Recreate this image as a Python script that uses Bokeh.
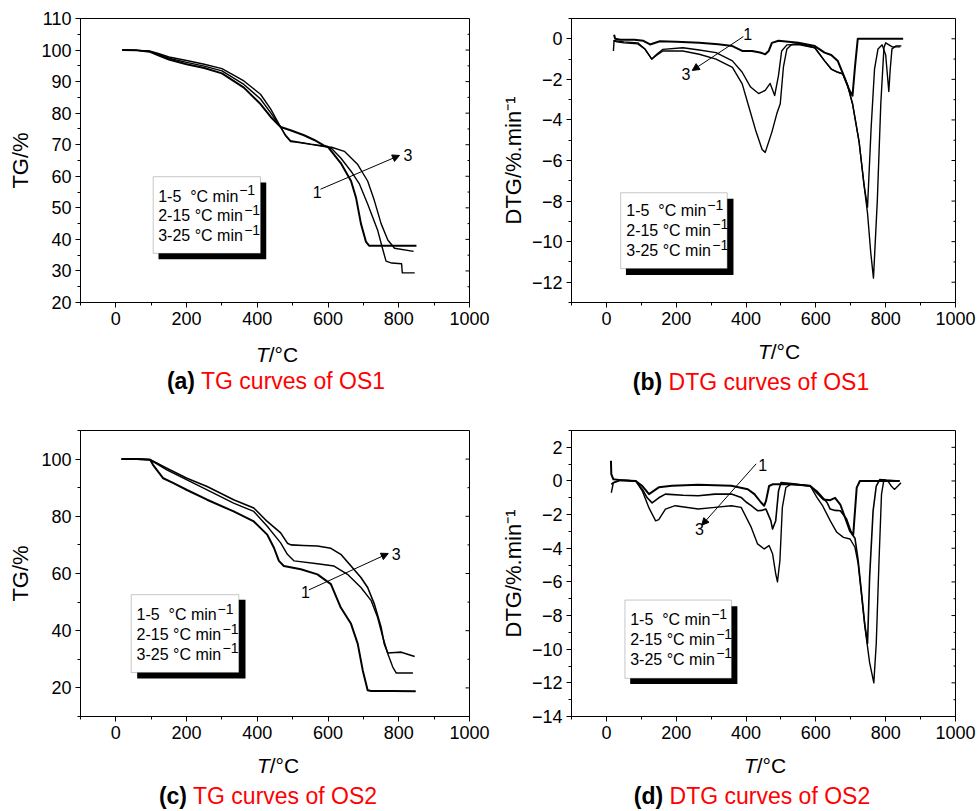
import numpy as np
from bokeh.plotting import figure
from bokeh.models import (Range1d, SingleIntervalTicker, BoxAnnotation, Label,
                          Arrow, NormalHead, CustomJSTickFormatter, Div)
from bokeh.layouts import column, row
from bokeh.embed import file_html
from bokeh.resources import INLINE

FONT = "Liberation Sans"

# ---------------- (a) TG curves of OS1 ----------------
a_T1 = [18, 60, 95, 120, 150, 200, 250, 300, 362, 409, 438, 466, 494, 532, 561, 589, 599, 636, 665, 679, 693, 707, 716, 760, 800, 850]
a_G1 = [100, 99.9, 99.5, 98.3, 97.0, 95.5, 94.3, 92.6, 88.1, 82.9, 78.8, 75.6, 74.6, 73.0, 71.5, 69.7, 69.4, 64.2, 58.5, 53.3, 45.0, 39.3, 38.0, 38.0, 38.0, 38.0]
a_T2 = [18, 60, 95, 120, 150, 200, 250, 300, 362, 409, 438, 466, 480, 494, 513, 551, 589, 610, 636, 665, 689, 712, 740, 755, 764, 780, 808, 810, 845]
a_G2 = [100, 99.9, 99.6, 98.6, 97.4, 96.1, 94.9, 93.4, 89.1, 84.5, 80.1, 75.6, 73.0, 71.3, 70.9, 70.2, 69.6, 68.8, 65.8, 61.6, 57.5, 51.2, 43.0, 36.7, 33.1, 32.5, 32.3, 29.4, 29.4]
a_T3 = [18, 60, 95, 120, 150, 200, 250, 300, 362, 409, 438, 466, 480, 494, 513, 551, 589, 610, 646, 684, 712, 731, 750, 769, 788, 842]
a_G3 = [100, 99.9, 99.7, 98.9, 97.8, 96.7, 95.5, 94.1, 90.2, 86.0, 81.3, 75.6, 72.8, 71.0, 70.8, 70.1, 69.4, 69.2, 67.9, 63.7, 58.5, 52.3, 45.0, 39.8, 37.2, 36.2]

# ---------------- (b) DTG curves of OS1 ----------------
b_T1 = [22, 25, 40, 80, 106, 125, 153, 200, 266, 320, 361, 389, 417, 440, 455, 465, 474, 493, 550, 597, 625, 644, 663, 682, 695, 701, 705, 712, 720, 760, 800, 850]
b_D1 = [0.2, 0.0, -0.05, -0.05, -0.1, -0.28, -0.12, -0.15, -0.2, -0.27, -0.36, -0.6, -0.6, -0.68, -0.76, -0.6, -0.2, -0.1, -0.2, -0.36, -0.68, -0.8, -1.1, -1.9, -2.5, -2.7, -2.8, -1.4, 0.0, 0.0, 0.0, 0.0]
b_T2 = [20, 25, 50, 90, 110, 130, 145, 162, 219, 266, 314, 361, 389, 413, 436, 455, 469, 482, 493, 502, 517, 550, 597, 625, 644, 663, 677, 691, 705, 724, 738, 748, 758, 768, 778, 790, 800, 805, 809, 813, 818, 830, 845]
b_D2 = [-0.1, -0.1, -0.15, -0.2, -0.5, -1.0, -0.75, -0.52, -0.44, -0.55, -0.68, -1.09, -1.65, -2.38, -2.7, -2.54, -2.2, -2.8, -1.8, -0.6, -0.3, -0.28, -0.44, -1.09, -1.49, -1.65, -1.73, -2.3, -3.2, -5.1, -7.2, -8.3, -4.5, -1.5, -0.5, -0.3, -0.8, -1.8, -2.6, -1.5, -0.5, -0.35, -0.35]
b_T3 = [20, 22, 30, 50, 90, 110, 130, 145, 162, 219, 266, 314, 361, 389, 408, 427, 446, 455, 474, 488, 498, 507, 517, 531, 550, 597, 625, 644, 663, 677, 691, 705, 724, 738, 748, 757, 765, 776, 786, 795, 800, 819, 842]
b_D3 = [-0.6, -0.1, -0.15, -0.2, -0.25, -0.5, -1.0, -0.8, -0.6, -0.6, -0.76, -1.0, -1.41, -2.22, -3.35, -4.48, -5.46, -5.6, -4.6, -3.7, -3.2, -1.4, -0.5, -0.28, -0.24, -0.44, -1.09, -1.49, -1.65, -1.73, -2.3, -3.2, -5.1, -7.2, -8.6, -10.5, -11.8, -8.0, -3.2, -0.44, -0.2, -0.4, -0.4]

# ---------------- (c) TG curves of OS2 ----------------
c_T1 = [16, 60, 97, 105, 120, 134, 163, 201, 258, 333, 390, 428, 447, 461, 475, 523, 570, 608, 636, 665, 684, 698, 712, 722, 780, 848]
c_G1 = [100, 100, 99.8, 98.0, 95.5, 93.3, 91.6, 89.2, 85.8, 81.7, 78.2, 73.6, 69.0, 64.4, 62.6, 61.5, 59.7, 56.3, 48.1, 42.4, 35.4, 26.2, 19.2, 18.9, 18.9, 18.8]
c_T2 = [16, 60, 97, 110, 144, 201, 258, 333, 390, 428, 466, 485, 495, 530, 570, 608, 636, 665, 693, 712, 731, 750, 759, 769, 790, 807, 845]
c_G2 = [100, 100, 99.8, 99.0, 96.8, 93.3, 90.4, 85.8, 82.9, 78.2, 74.2, 70.6, 70.0, 69.8, 69.6, 68.8, 66.7, 62.6, 58.6, 55.1, 49.3, 41.2, 35.4, 32.2, 32.4, 32.5, 31.0]
c_T3 = [16, 60, 97, 110, 144, 201, 258, 333, 390, 428, 466, 485, 504, 570, 617, 655, 693, 722, 740, 755, 769, 783, 793, 840]
c_G3 = [100, 100, 99.8, 98.8, 96.2, 92.7, 89.2, 84.6, 81.7, 76.5, 70.7, 66.7, 64.4, 63.4, 62.6, 59.7, 55.1, 50.5, 44.7, 37.7, 31.9, 27.3, 25.2, 25.2]

# ---------------- (d) DTG curves of OS2 ----------------
d_T1 = [13, 14, 20, 40, 84, 103, 122, 150, 188, 263, 358, 405, 424, 443, 452, 457, 466, 476, 530, 584, 622, 641, 655, 670, 684, 698, 707, 717, 726, 780, 840]
d_D1 = [1.2, 0.4, 0.1, 0.05, 0.0, -0.3, -0.78, -0.38, -0.29, -0.23, -0.29, -0.49, -0.78, -1.28, -1.47, -1.2, -0.3, -0.2, -0.2, -0.29, -1.1, -1.14, -1.0, -1.4, -2.2, -3.0, -3.2, -0.4, 0.0, 0.0, 0.0]
d_T2 = [14, 20, 40, 84, 103, 117, 131, 150, 169, 220, 263, 311, 358, 386, 400, 415, 433, 445, 457, 471, 476, 485, 493, 500, 530, 584, 603, 632, 641, 655, 670, 688, 703, 712, 721, 731, 740, 748, 754, 764, 773, 783, 800, 840]
d_D2 = [-0.2, -0.1, 0.05, 0.0, -0.5, -1.0, -1.3, -1.0, -0.78, -0.85, -0.88, -0.78, -0.78, -0.98, -1.25, -1.47, -1.77, -1.75, -1.67, -2.36, -2.86, -2.36, -0.6, -0.1, -0.15, -0.3, -0.6, -1.28, -1.67, -1.75, -1.77, -2.26, -3.15, -3.4, -4.7, -6.7, -8.5, -9.66, -5.7, -1.77, -0.3, 0.08, 0.05, 0.0]
d_T3 = [14, 20, 40, 84, 103, 122, 141, 150, 169, 197, 263, 311, 358, 386, 415, 433, 452, 466, 476, 485, 490, 497, 504, 514, 528, 584, 603, 620, 641, 660, 679, 698, 712, 721, 731, 740, 754, 766, 773, 781, 788, 795, 806, 816, 825, 835, 844]
d_D3 = [-0.7, -0.1, 0.05, 0.0, -0.6, -1.6, -2.37, -2.3, -1.67, -1.47, -1.67, -1.57, -1.47, -1.57, -2.76, -3.74, -4.04, -3.84, -4.33, -5.52, -6.0, -4.73, -1.57, -0.39, -0.2, -0.3, -0.98, -1.5, -2.36, -3.05, -3.35, -3.45, -3.94, -4.9, -6.8, -8.6, -10.8, -12.0, -9.66, -4.7, -0.8, 0.08, 0.0, -0.3, -0.5, -0.3, -0.1]

LEGEND_LINES = ["1-5\u00a0\u00a0°C min", "2-15 °C min", "3-25 °C min"]
LEGEND_WIDTHS = [80, 85, 85]  # px, to place the superscript
SUPER = "\u22121"

MINUS_FMT = "return tick < 0 ? '\u2212' + Math.abs(tick) : String(tick);"


def build(width, height, borders, yr, yint, ylab, ylab_standoff, curves,
          box, shadow, legx, legys, arrow, lab1, lab3):
    l, r, t, b = borders
    p = figure(width=width, height=height, x_range=Range1d(-100, 1000), y_range=Range1d(*yr),
               output_backend="svg", toolbar_location=None, tools="",
               min_border_left=l, min_border_right=r, min_border_top=t, min_border_bottom=b)
    p.background_fill_color = "white"
    p.border_fill_color = "white"
    p.outline_line_color = "black"
    p.outline_line_width = 1
    p.grid.visible = False
    p.xaxis.ticker = SingleIntervalTicker(interval=200, num_minor_ticks=2)
    p.yaxis.ticker = SingleIntervalTicker(interval=yint, num_minor_ticks=2)
    for ax in (p.xaxis[0], p.yaxis[0]):
        ax.major_tick_out = 5
        ax.major_tick_in = 0
        ax.minor_tick_out = 3
        ax.minor_tick_in = 0
        ax.major_tick_line_color = "black"
        ax.minor_tick_line_color = "black"
        ax.axis_line_color = "black"
        ax.major_label_text_font = FONT
        ax.major_label_text_font_size = "18px"
        ax.major_label_text_color = "black"
        ax.major_label_standoff = 4
    p.yaxis.formatter = CustomJSTickFormatter(code=MINUS_FMT)
    p.yaxis.axis_label = ylab
    p.yaxis.axis_label_text_font = FONT
    p.yaxis.axis_label_text_font_size = "22px"
    p.yaxis.axis_label_text_font_style = "normal"
    p.yaxis.axis_label_text_color = "black"
    p.yaxis.axis_label_standoff = ylab_standoff

    # inward ticks on the right edge (major and minor)
    half = yint / 2.0
    ticks = np.arange(np.ceil(yr[0] / half) * half, yr[1] + 1e-9, half)
    majors = [v for v in ticks if abs(v / yint - round(v / yint)) < 1e-9]
    minors = [v for v in ticks if abs(v / yint - round(v / yint)) >= 1e-9]
    p.ray(x=[1000] * len(majors), y=majors, length=4, angle=np.pi, length_units="screen",
          line_color="black", line_width=1)
    p.ray(x=[1000] * len(minors), y=minors, length=2, angle=np.pi, length_units="screen",
          line_color="black", line_width=1)

    for xs, ys, lw in curves:
        p.line(xs, ys, line_color="black", line_width=lw, line_join="round")

    p.add_layout(BoxAnnotation(left=shadow[0], right=shadow[1], top=shadow[2], bottom=shadow[3],
                               fill_color="black", fill_alpha=1, line_color=None))
    p.add_layout(BoxAnnotation(left=box[0], right=box[1], top=box[2], bottom=box[3],
                               fill_color="white", fill_alpha=1, line_color="#444444", line_width=1))
    for txt, w, yy in zip(LEGEND_LINES, LEGEND_WIDTHS, legys):
        p.add_layout(Label(x=legx, y=yy, text=txt, text_font=FONT, text_font_size="16px",
                           text_align="left", text_baseline="middle", text_color="black"))
        p.add_layout(Label(x=legx, y=yy, x_offset=w + 1, y_offset=6, text=SUPER, text_font=FONT,
                           text_font_size="14px", text_align="left", text_baseline="middle",
                           text_color="black"))

    p.add_layout(Arrow(end=NormalHead(size=7, fill_color="black", line_color="black", line_width=1),
                       x_start=arrow[0], y_start=arrow[1], x_end=arrow[2], y_end=arrow[3],
                       line_width=1, line_color="black"))
    for (x, y), s in ((lab1, "1"), (lab3, "3")):
        p.add_layout(Label(x=x, y=y, text=s, text_font=FONT, text_font_size="16px",
                           text_align="center", text_baseline="middle", text_color="black"))
    return p


def caption_div(width, height, xl_cx, xl_cy, cap_cx, cap_cy, tag, text):
    html = (
        f'<div style="position:relative;width:{width}px;height:{height}px;'
        f'font-family:\'Liberation Sans\',Arial,sans-serif;color:black;">'
        f'<div style="position:absolute;left:{xl_cx}px;top:{xl_cy - 12}px;transform:translateX(-50%);'
        f'white-space:nowrap;font-size:21px;line-height:24px;"><i>T</i>/°C</div>'
        f'<div style="position:absolute;left:{cap_cx}px;top:{cap_cy - 12}px;transform:translateX(-50%);'
        f'white-space:nowrap;font-size:23px;line-height:24px;"><b>{tag}</b> '
        f'<span style="color:#ff0000">{text}</span></div>'
        '</div>')
    return Div(text=html, width=width, height=height, margin=0)


pa = build(497, 342, (80, 28, 18, 35), (20, 110), 10, "TG/%", 5,
           [(a_T1, a_G1, 2.0), (a_T2, a_G2, 1.4), (a_T3, a_G3, 1.4)],
           (105.6, 409, 59.86, 35.57), (120.6, 425.2, 58.0, 33.7), 119.7, [53.7, 47.5, 41.2],
           (578.7, 55.9, 802.1, 66.6), (569.4, 55.1), (825.6, 66.8))

pb = build(479, 342, (70, 21, 14, 40), (-13, 1), 2, "DTG/%.min\u207b\u00b9", 3,
           [(b_T1, b_D1, 2.0), (b_T2, b_D2, 1.4), (b_T3, b_D3, 1.4)],
           (40.9, 346, -7.59, -11.33), (55.9, 364, -7.88, -11.64), 56.8, [-8.47, -9.45, -10.44],
           (392.5, 0.11, 245.9, -1.56), (404.7, 0.26), (228, -1.76))

pc = build(497, 334, (80, 28, 11, 36), (10, 110), 20, "TG/%", 5,
           [(c_T1, c_G1, 2.0), (c_T2, c_G2, 1.6), (c_T3, c_G3, 1.4)],
           (43.4, 347.7, 52.6, 25.4), (60.3, 366.6, 50.8, 23.3), 58.4, [45.6, 38.6, 31.7],
           (545.6, 54.25, 770.2, 67.0), (536.3, 53.6), (792.8, 66.9))

pd_ = build(479, 334, (70, 21, 12, 35), (-14, 3), 2, "DTG/%.min\u207b\u00b9", 3,
            [(d_T1, d_D1, 2.0), (d_T2, d_D2, 1.6), (d_T3, d_D3, 1.4)],
            (53.1, 358.2, -7.08, -11.73), (68.1, 375.2, -7.44, -12.07), 68.1, [-8.24, -9.43, -10.61],
            (429, 1.02, 273.1, -2.63), (448, 0.97), (266.6, -2.83))

cap_a = caption_div(497, 76, 277, 13, 276, 39, "(a)", "TG curves of OS1")
cap_b = caption_div(479, 76, 282, 10, 254, 40, "(b)", "DTG curves of OS1")
cap_c = caption_div(497, 56, 278, 14, 268, 44, "(c)", "TG curves of OS2")
cap_d = caption_div(479, 56, 268, 14, 255, 44, "(d)", "DTG curves of OS2")

layout = column(row(pa, pb), row(cap_a, cap_b), row(pc, pd_), row(cap_c, cap_d))
open("out.html", "w").write(file_html(layout, INLINE))
